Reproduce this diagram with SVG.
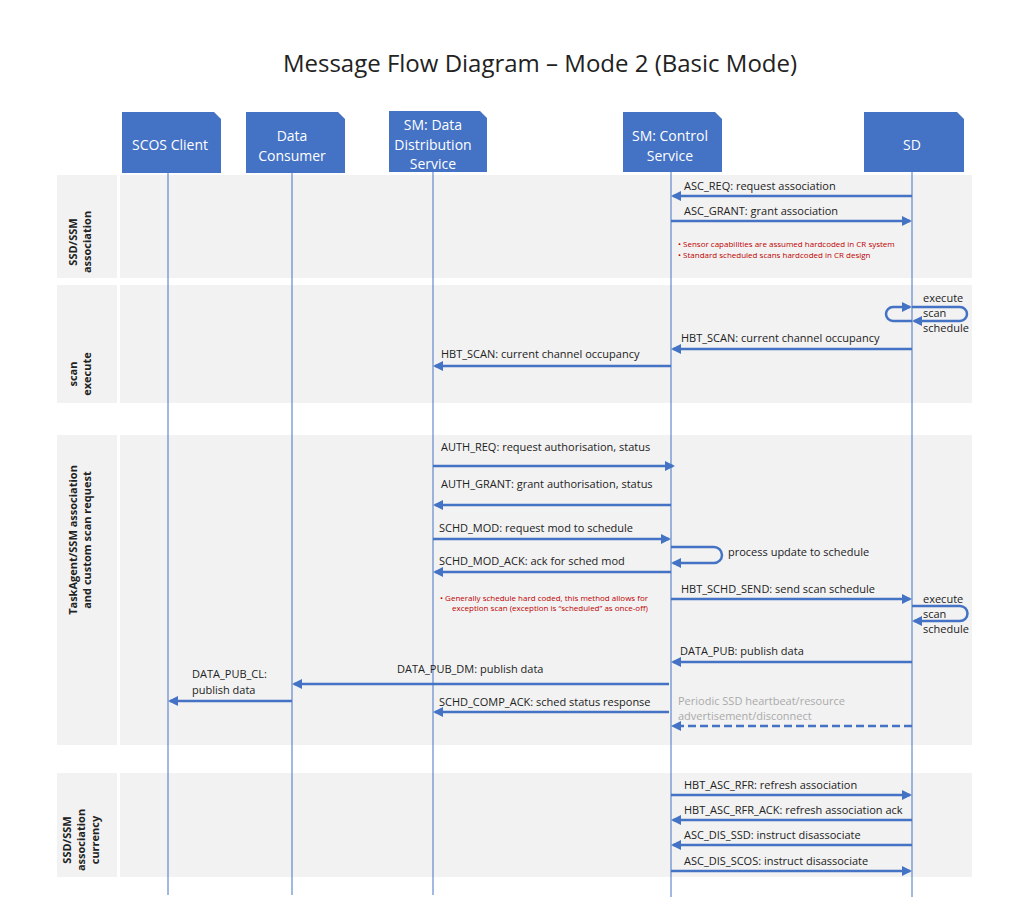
<svg xmlns="http://www.w3.org/2000/svg" width="1024" height="910" viewBox="0 0 1024 910">
<style>
text{font-family:"Open Sans","Liberation Sans",sans-serif;fill:#222}
.h{fill:#4472c4}
.ht{fill:#fff;font-size:14px;text-anchor:middle}
.l{stroke:#4472c4;stroke-width:1}
.a{stroke:#4472c4;stroke-width:2.5;fill:none}
.m{font-size:11px}
.r{font-size:8px;fill:#c00000}
.lab{font-size:11px;font-weight:bold;text-anchor:middle}
</style>
<defs><marker id="ar" viewBox="0 0 10 10" refX="8" refY="5" markerWidth="4" markerHeight="4" orient="auto"><path d="M0,0L10,5L0,10z" fill="#4472c4"/></marker></defs>
<rect width="1024" height="910" fill="#fff"/>
<text x="540" y="72" font-size="24" text-anchor="middle">Message Flow Diagram – Mode 2 (Basic Mode)</text>
<g id="bands" fill="#f2f2f2">
<rect x="57" y="175" width="915" height="103"/><rect x="57" y="285" width="915" height="118"/>
<rect x="57" y="435" width="915" height="310"/><rect x="57" y="773" width="915" height="104"/>
<g fill="#fff"><rect x="117" y="175" width="3" height="103"/><rect x="117" y="285" width="3" height="118"/><rect x="117" y="435" width="3" height="310"/><rect x="117" y="773" width="3" height="104"/></g>
</g>
<g id="bandlabels">
<text class="lab" transform="translate(80,242) rotate(-90)"><tspan x="0" dy="-3">SSD/SSM</tspan><tspan x="0" dy="14">association</tspan></text>
<text class="lab" transform="translate(80,374) rotate(-90)"><tspan x="0" dy="-3">scan</tspan><tspan x="0" dy="14">execute</tspan></text>
<text class="lab" transform="translate(80,540) rotate(-90)"><tspan x="0" dy="-3">TaskAgent/SSM association</tspan><tspan x="0" dy="14">and custom scan request</tspan></text>
<text class="lab" transform="translate(80,840) rotate(-90)"><tspan x="0" dy="-9">SSD/SSM</tspan><tspan x="0" dy="14">association</tspan><tspan x="0" dy="14">currency</tspan></text>
</g>
<g id="lifelines">
<line class="l" x1="168" y1="173" x2="168" y2="895"/><line class="l" x1="292" y1="173" x2="292" y2="895"/>
<line class="l" x1="433" y1="172" x2="433" y2="895"/><line class="l" x1="671" y1="172" x2="671" y2="897"/>
<line class="l" x1="912" y1="172" x2="912" y2="897"/>
</g>
<g id="n1"><path class="h" d="M122,112H214L221,119V173H122Z"/><text class="ht" x="170" y="150">SCOS Client</text></g>
<g id="n2"><path class="h" d="M246,112H338L345,119V173H246Z"/><text class="ht" x="292" y="141">Data</text><text class="ht" x="292" y="161">Consumer</text></g>
<g id="n3"><path class="h" d="M389,111H480L487,118V172H389Z"/><text class="ht" x="433" y="130">SM: Data</text><text class="ht" x="433" y="150">Distribution</text><text class="ht" x="433" y="169">Service</text></g>
<g id="n4"><path class="h" d="M623,112H715L722,119V172H623Z"/><text class="ht" x="670" y="141">SM: Control</text><text class="ht" x="670" y="161">Service</text></g>
<g id="n5"><path class="h" d="M864,112H957L964,119V172H864Z"/><text class="ht" x="912" y="150">SD</text></g>
<g id="connectors" marker-end="url(#ar)">
<line class="a" x1="912" y1="196" x2="673" y2="196"/>
<line class="a" x1="671" y1="221" x2="910" y2="221"/>
<path class="a" d="M912,307H960A7,7 0 0 1 960,321H914"/>
<path class="a" d="M912,321H893A7,7 0 0 1 893,307H910"/>
<line class="a" x1="912" y1="349" x2="673" y2="349"/>
<line class="a" x1="671" y1="366" x2="435" y2="366"/>
<line class="a" x1="433" y1="466" x2="673" y2="466"/>
<line class="a" x1="671" y1="505" x2="435" y2="505"/>
<line class="a" x1="433" y1="539" x2="669" y2="539"/>
<path class="a" d="M671,547H714A8,8 0 0 1 714,563H673"/>
<line class="a" x1="671" y1="572" x2="435" y2="572"/>
<line class="a" x1="671" y1="599" x2="910" y2="599"/>
<path class="a" d="M912,606H960A7,7 0 0 1 960,621H914"/>
<line class="a" x1="912" y1="662" x2="673" y2="662"/>
<line class="a" x1="669" y1="684" x2="294" y2="684"/>
<line class="a" x1="292" y1="701" x2="170" y2="701"/>
<line class="a" x1="669" y1="712" x2="435" y2="712"/>
<line class="a" x1="912" y1="726" x2="673" y2="726" stroke-dasharray="8,4"/>
<line class="a" x1="671" y1="795" x2="910" y2="795"/>
<line class="a" x1="912" y1="820" x2="673" y2="820"/>
<line class="a" x1="912" y1="845" x2="673" y2="845"/>
<line class="a" x1="671" y1="871" x2="910" y2="871"/>
</g>
<g id="labels" class="m">
<text class="m" x="684" y="190">ASC_REQ: request association</text>
<text class="m" x="684" y="215">ASC_GRANT: grant association</text>
<text class="r" x="678" y="247">•   Sensor capabilities are assumed hardcoded in CR system</text>
<text class="r" x="678" y="258">•   Standard scheduled scans hardcoded in CR design</text>
<text class="m" x="923" y="302">execute</text><text class="m" x="923" y="317">scan</text><text class="m" x="923" y="332">schedule</text>
<text class="m" x="681" y="342">HBT_SCAN: current channel occupancy</text>
<text class="m" x="441" y="358">HBT_SCAN: current channel occupancy</text>
<text class="m" x="441" y="451">AUTH_REQ: request authorisation, status</text>
<text class="m" x="441" y="488">AUTH_GRANT: grant authorisation, status</text>
<text class="m" x="439" y="532">SCHD_MOD: request mod to schedule</text>
<text class="m" x="728" y="556">process update to schedule</text>
<text class="m" x="439" y="565">SCHD_MOD_ACK: ack for sched mod</text>
<text class="m" x="681" y="593">HBT_SCHD_SEND: send scan schedule</text>
<text class="r" x="440" y="601">•   Generally schedule hard coded, this method allows for</text>
<text class="r" x="452" y="611">exception scan (exception is “scheduled” as once-off)</text>
<text class="m" x="923" y="603">execute</text><text class="m" x="923" y="618">scan</text><text class="m" x="923" y="633">schedule</text>
<text class="m" x="680" y="655">DATA_PUB: publish data</text>
<text class="m" x="397" y="673">DATA_PUB_DM: publish data</text>
<text class="m" x="192" y="678">DATA_PUB_CL:</text><text class="m" x="192" y="694">publish data</text>
<text class="m" x="439" y="706">SCHD_COMP_ACK: sched status response</text>
<text class="m" x="678" y="705" style="fill:#aaa">Periodic SSD heartbeat/resource</text>
<text class="m" x="678" y="720" style="fill:#aaa">advertisement/disconnect</text>
<text class="m" x="684" y="789">HBT_ASC_RFR: refresh association</text>
<text class="m" x="684" y="814">HBT_ASC_RFR_ACK: refresh association ack</text>
<text class="m" x="684" y="839">ASC_DIS_SSD: instruct disassociate</text>
<text class="m" x="684" y="865">ASC_DIS_SCOS: instruct disassociate</text>
</g>
</svg>
